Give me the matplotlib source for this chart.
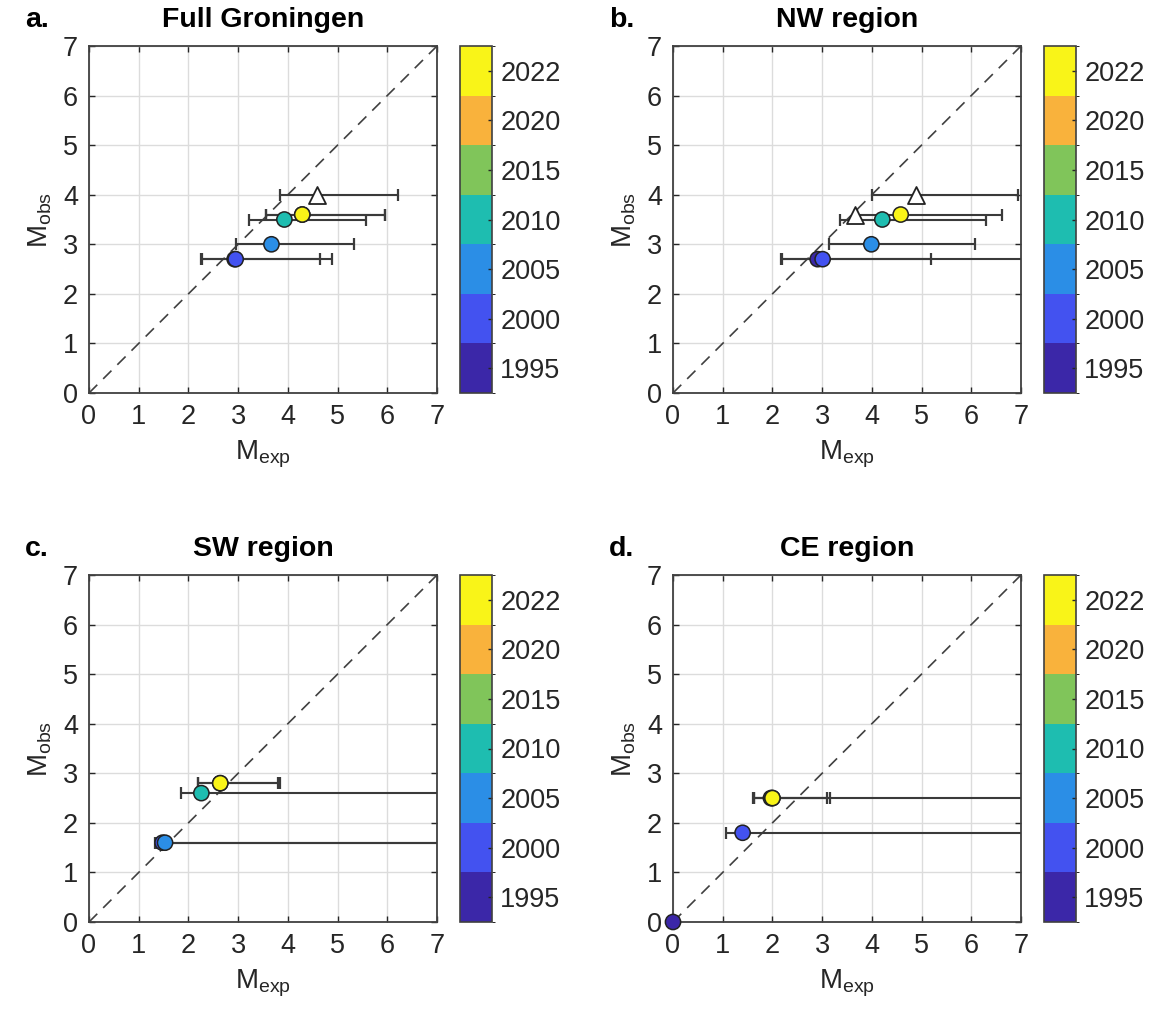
import matplotlib
matplotlib.use("Agg")
import matplotlib.pyplot as plt
from matplotlib.colors import ListedColormap, BoundaryNorm
import matplotlib.cm as cm
import numpy as np

plt.rcParams['font.family'] = ['Liberation Sans', 'DejaVu Sans']
plt.rcParams['mathtext.default'] = 'regular'

# ---------------- data ----------------
year_bins = [1995, 2000, 2005, 2010, 2015, 2020, 2022]
bin_colors = ['#3B27A8', '#4352F0', '#2B8EE6', '#1EBDB0', '#80C55A', '#F9B23C', '#F9F418']

titles = ['Full Groningen', 'NW region', 'SW region', 'CE region']
panel_tags = ['a.', 'b.', 'c.', 'd.']

# Panel a
years_a = [1995, 2000, 2005, 2010, 2020, 2022]
mexp_a = [2.93, 2.95, 3.67, 3.93, 4.29, 4.29]
mobs_a = [2.7, 2.7, 3.0, 3.5, 3.6, 3.6]
lo_a = [2.26, 2.28, 2.95, 3.21, 3.57, 3.57]
hi_a = [4.64, 4.88, 5.33, 5.58, 5.95, 5.95]
tri_mexp_a = [4.58]
tri_mobs_a = [4.0]
tri_lo_a = [3.85]
tri_hi_a = [6.22]

# Panel b
years_b = [1995, 2000, 2005, 2010, 2022]
mexp_b = [2.91, 3.01, 3.99, 4.21, 4.58]
mobs_b = [2.7, 2.7, 3.0, 3.5, 3.6]
lo_b = [2.18, 2.20, 3.13, 3.36, 3.71]
hi_b = [5.19, 7.6, 6.07, 6.29, 6.61]
tri_mexp_b = [3.66, 4.89]
tri_mobs_b = [3.6, 4.0]
tri_lo_b = [3.66, 4.01]
tri_hi_b = [3.66, 6.93]

# Panel c
years_c = [2000, 2005, 2010, 2020, 2022]
mexp_c = [1.48, 1.53, 2.26, 2.64, 2.64]
mobs_c = [1.6, 1.6, 2.6, 2.8, 2.8]
lo_c = [1.33, 1.35, 1.86, 2.19, 2.19]
hi_c = [7.6, 7.6, 7.6, 3.81, 3.85]

# Panel d
years_d = [1995, 2000, 2010, 2020, 2022]
mexp_d = [0.0, 1.40, 1.97, 2.0, 2.0]
mobs_d = [0.0, 1.8, 2.5, 2.5, 2.5]
lo_d = [0.0, 1.07, 1.60, 1.62, 1.62]
hi_d = [0.0, 7.6, 7.6, 3.09, 3.15]

panels = [
    (years_a, mexp_a, mobs_a, lo_a, hi_a, tri_mexp_a, tri_mobs_a, tri_lo_a, tri_hi_a),
    (years_b, mexp_b, mobs_b, lo_b, hi_b, tri_mexp_b, tri_mobs_b, tri_lo_b, tri_hi_b),
    (years_c, mexp_c, mobs_c, lo_c, hi_c, [], [], [], []),
    (years_d, mexp_d, mobs_d, lo_d, hi_d, [], [], [], []),
]

# ---------------- layout ----------------
W, H = 1162, 1023
fig = plt.figure(figsize=(W / 100, H / 100), dpi=100)

ax_left = [89, 673, 89, 673]
ax_top = [46, 46, 575, 575]
ax_w, ax_h = 348, 347
cb_off, cb_w = 371, 32

cmap = ListedColormap(bin_colors)
norm = BoundaryNorm(np.arange(len(year_bins) + 1), cmap.N)
dark = '#262626'
errc = '#3A3A3A'

def fx(px):
    return px / W

def fy(py):
    return 1 - py / H

for i, (yrs, mexp, mobs, lo, hi, tmx, tmo, tlo, thi) in enumerate(panels):
    L, T = ax_left[i], ax_top[i]
    ax = fig.add_axes([fx(L), fy(T + ax_h), fx(ax_w), ax_h / H])
    ax.set_xlim(0, 7)
    ax.set_ylim(0, 7)
    ax.set_xticks(range(8))
    ax.set_yticks(range(8))
    ax.grid(True, color='#DCDCDC', lw=1.0, zorder=0)
    ax.set_axisbelow(True)
    ax.tick_params(direction='in', length=4, width=1, colors=dark, labelsize=19.5,
                   top=True, right=True, pad=8)
    for sp in ax.spines.values():
        sp.set_color('#404040')
        sp.set_linewidth(1.3)
    ax.plot([0, 7], [0, 7], ls=(0, (7, 5)), color='#404040', lw=1.2, zorder=2)

    idx = [year_bins.index(y) for y in yrs]
    cols = [bin_colors[k] for k in idx]
    mexp_a_ = np.array(mexp)
    xerr = np.array([mexp_a_ - np.array(lo), np.array(hi) - mexp_a_])
    ax.errorbar(mexp, mobs, xerr=xerr, fmt='none', ecolor=errc, elinewidth=1.5,
                capsize=4, capthick=1.6, zorder=3)
    if len(tmx):
        tmx_ = np.array(tmx)
        txerr = np.array([tmx_ - np.array(tlo), np.array(thi) - tmx_])
        ax.errorbar(tmx, tmo, xerr=txerr, fmt='none', ecolor=errc, elinewidth=1.5,
                    capsize=4, capthick=1.6, zorder=3)
        ax.scatter(tmx, tmo, marker='^', s=150, facecolor='white', edgecolor='#222222',
                   linewidths=1.3, zorder=4)
    ax.scatter(mexp, mobs, c=idx, cmap=cmap, norm=norm, s=120, edgecolors='#222222',
               linewidths=1.1, zorder=5, clip_on=False)

    ax.set_xlabel(r'M$_{exp}$', fontsize=20, color=dark, labelpad=6)
    ax.set_ylabel(r'M$_{obs}$', fontsize=20, color=dark, labelpad=6)
    ax.set_title(titles[i], fontsize=20.5, fontweight='bold', pad=14)
    fig.text(fx(L - 64), fy(T - 26), panel_tags[i], fontsize=20.5, fontweight='bold',
             ha='left', va='center')

    cax = fig.add_axes([fx(L + cb_off), fy(T + ax_h), fx(cb_w), ax_h / H])
    cb = fig.colorbar(cm.ScalarMappable(norm=norm, cmap=cmap), cax=cax,
                      ticks=np.arange(len(year_bins)) + 0.5)
    cb.set_ticklabels([str(y) for y in year_bins])
    cb.ax.tick_params(direction='in', length=3, width=1, colors=dark, labelsize=19.5, pad=6)
    cb.outline.set_edgecolor('#404040')
    cb.outline.set_linewidth(1.2)

fig.savefig('out.png', dpi=100)
